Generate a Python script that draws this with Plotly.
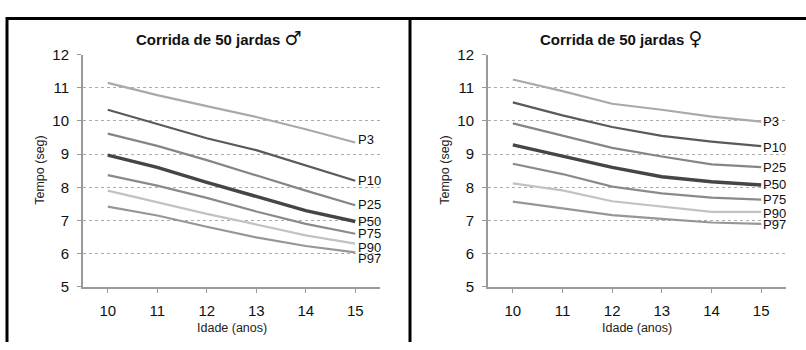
import plotly.graph_objects as go

ages = [10, 11, 12, 13, 14, 15]
percentiles = ["P3", "P10", "P25", "P50", "P75", "P90", "P97"]

male_P3 = [11.15, 10.78, 10.45, 10.12, 9.75, 9.35]
male_P10 = [10.34, 9.92, 9.48, 9.12, 8.65, 8.20]
male_P25 = [9.62, 9.25, 8.82, 8.35, 7.90, 7.46]
male_P50 = [8.97, 8.60, 8.15, 7.72, 7.30, 6.97]
male_P75 = [8.37, 8.05, 7.68, 7.27, 6.90, 6.60]
male_P90 = [7.90, 7.55, 7.20, 6.88, 6.55, 6.30]
male_P97 = [7.42, 7.15, 6.81, 6.49, 6.23, 6.04]

female_P3 = [11.25, 10.90, 10.52, 10.34, 10.13, 9.98]
female_P10 = [10.56, 10.17, 9.82, 9.55, 9.38, 9.24]
female_P25 = [9.93, 9.55, 9.19, 8.93, 8.69, 8.61]
female_P50 = [9.28, 8.95, 8.60, 8.32, 8.17, 8.07]
female_P75 = [8.71, 8.40, 8.02, 7.82, 7.69, 7.63]
female_P90 = [8.12, 7.91, 7.58, 7.42, 7.26, 7.26]
female_P97 = [7.57, 7.37, 7.16, 7.05, 6.94, 6.90]

y_ticks = [5, 6, 7, 8, 9, 10, 11, 12]

male = [male_P3, male_P10, male_P25, male_P50, male_P75, male_P90, male_P97]
female = [female_P3, female_P10, female_P25, female_P50, female_P75, female_P90, female_P97]

colors = ["#a9a9a9", "#5a5a5a", "#858585", "#454545", "#8a8a8a", "#c2c2c2", "#969696"]
widths = [2.2, 2.2, 2.2, 3.4, 2.2, 2.2, 2.2]
male_label_shift = [3, 0, 1, 0, 0, -4, -6]
female_label_shift = [0, -1, 0, 0, 0, -2, -1]

W, H = 806, 350
fig = go.Figure()

FONT = "Liberation Sans, Arial, sans-serif"
TFONT = "Liberation Sans, Arial, DejaVu Sans, sans-serif"
SYM = '<span style="font-family:DejaVu Sans;font-size:19px">{}</span>'

for data, xa, ya in [(male, "x", "y"), (female, "x2", "y2")]:
    for i, vals in enumerate(data):
        fig.add_trace(go.Scatter(
            x=ages, y=vals, mode="lines", xaxis=xa, yaxis=ya,
            line=dict(color=colors[i], width=widths[i]),
            showlegend=False, hoverinfo="skip",
        ))

annotations = []
for data, xref, yref, shifts, xs in [(male, "x", "y", male_label_shift, 2),
                                     (female, "x2", "y2", female_label_shift, 1)]:
    for i, vals in enumerate(data):
        annotations.append(dict(
            x=ages[-1], y=vals[-1], xref=xref, yref=yref, text=percentiles[i],
            showarrow=False, xanchor="left", yanchor="middle",
            xshift=xs, yshift=shifts[i], borderpad=0,
            font=dict(family=FONT, size=13, color="#111"),
        ))

def px_x(p):
    return p / W

def px_y(p):
    return 1 - p / H

annotations += [
    dict(x=px_x(218), y=px_y(30), xref="paper", yref="paper",
         text="<b>Corrida de 50 jardas " + SYM.format("♂") + "</b>",
         showarrow=False, xanchor="center", yanchor="middle", font=dict(family=TFONT, size=15, color="#111")),
    dict(x=px_x(621), y=px_y(30), xref="paper", yref="paper",
         text="<b>Corrida de 50 jardas " + SYM.format("♀") + "</b>",
         showarrow=False, xanchor="center", yanchor="middle", font=dict(family=TFONT, size=15, color="#111")),
    dict(x=px_x(40), y=px_y(170), xref="paper", yref="paper", text="Tempo (seg)", textangle=-90,
         showarrow=False, xanchor="center", yanchor="middle", font=dict(family=FONT, size=12.5, color="#222")),
    dict(x=px_x(445), y=px_y(170), xref="paper", yref="paper", text="Tempo (seg)", textangle=-90,
         showarrow=False, xanchor="center", yanchor="middle", font=dict(family=FONT, size=12.5, color="#222")),
    dict(x=px_x(232), y=px_y(335), xref="paper", yref="paper", text="Idade (anos)",
         showarrow=False, xanchor="center", yanchor="middle", font=dict(family=FONT, size=12.5, color="#222")),
    dict(x=px_x(637), y=px_y(335), xref="paper", yref="paper", text="Idade (anos)",
         showarrow=False, xanchor="center", yanchor="middle", font=dict(family=FONT, size=12.5, color="#222")),
]

xaxis_common = dict(
    range=[9.5, 15.5], tickvals=ages, showgrid=False, zeroline=False,
    showline=True, linecolor="#9a9a9a", linewidth=2,
    ticks="outside", ticklen=4, tickcolor="#9a9a9a", tickwidth=1,
    tickfont=dict(family=FONT, size=15, color="#111"), ticklabelstandoff=5,
    fixedrange=True,
)
yaxis_common = dict(
    range=[5, 12], tickvals=y_ticks, showgrid=True, gridcolor="#ababab", griddash="dot", gridwidth=1,
    zeroline=False, showline=True, linecolor="#9a9a9a", linewidth=2,
    ticks="outside", ticklen=4, tickcolor="#9a9a9a", tickwidth=1,
    tickfont=dict(family=FONT, size=15, color="#111"), ticklabelstandoff=5,
    fixedrange=True,
)

fig.update_layout(
    width=W, height=H, margin=dict(l=0, r=0, t=0, b=0),
    paper_bgcolor="white", plot_bgcolor="white",
    xaxis=dict(domain=[px_x(83), px_x(380)], anchor="y", **xaxis_common),
    yaxis=dict(domain=[px_y(292), px_y(48)], anchor="x", **yaxis_common),
    xaxis2=dict(domain=[px_x(488), px_x(786)], anchor="y2", **xaxis_common),
    yaxis2=dict(domain=[px_y(292), px_y(48)], anchor="x2", **yaxis_common),
    annotations=annotations,
    shapes=[
        dict(type="line", xref="paper", yref="paper", x0=px_x(7), x1=1.0, y0=px_y(10), y1=px_y(10),
             line=dict(color="black", width=3)),
        dict(type="line", xref="paper", yref="paper", x0=px_x(7), x1=px_x(7), y0=px_y(8.5), y1=0,
             line=dict(color="black", width=3)),
        dict(type="line", xref="paper", yref="paper", x0=px_x(410), x1=px_x(410), y0=px_y(8.5), y1=0,
             line=dict(color="black", width=3)),
    ],
)

post = (
    "var st=document.createElement('style');"
    "st.textContent='html,body{margin:0!important;padding:0!important;overflow:hidden!important;}"
    ".plotly-graph-div{position:fixed!important;top:0!important;left:0!important;}';"
    "document.head.appendChild(st);"
    "window.scrollTo(0,0);"
)

fig.write_html(
    "out.html",
    config={"responsive": False, "displayModeBar": False},
    post_script=post,
)
